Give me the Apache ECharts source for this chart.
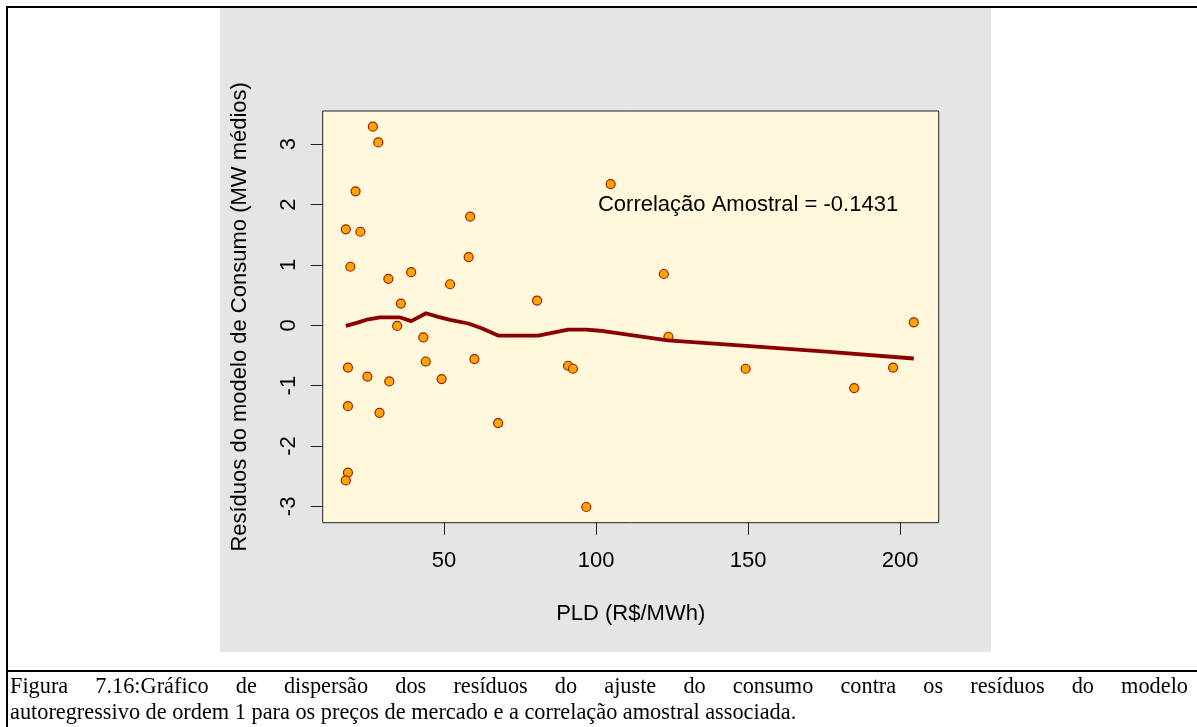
<!DOCTYPE html>
<html>
<head>
<meta charset="utf-8">
<script src="https://cdn.jsdelivr.net/npm/echarts@6/dist/echarts.min.js"></script>
<style>
  html, body { margin: 0; padding: 0; background: #fff; }
  #page { position: relative; width: 1197px; height: 727px; overflow: hidden; background: #fff; }
  #frame { position: absolute; left: 6px; top: 6px; width: 1400px; height: 900px; border: 2px solid #000; box-sizing: border-box; }
  #panel { position: absolute; left: 220px; top: 8px; width: 771px; height: 644px; background: #e5e5e5; }
  #rule { position: absolute; left: 6px; top: 670px; width: 1300px; height: 2px; background: #000; }
  .cap { position: absolute; left: 10px; width: 1178px; font: 22.3px "Liberation Serif", "Times New Roman", serif; line-height: 22px; color: #000; white-space: nowrap; }
  #cap1 { top: 675px; text-align: justify; text-align-last: justify; white-space: normal; }
  #cap2 { top: 701px; }
  #chart { position: absolute; left: 0; top: 0; width: 1197px; height: 727px; }
</style>
</head>
<body>
<div id="page">
  <div id="frame"></div>
  <div id="panel"></div>
  <div id="rule"></div>
  <div id="chart"></div>
  <div class="cap" id="cap1">Figura 7.16:Gráfico de dispersão dos resíduos do ajuste do consumo contra os resíduos do modelo</div>
  <div class="cap" id="cap2">autoregressivo de ordem 1 para os preços de mercado e a correlação amostral associada.</div>
</div>
<script>
// Residuals of the consumption fit (y) against PLD price (x)
const pldPrice = [26.6, 28.4, 20.9, 17.7, 22.5, 58.6, 58.1, 19.2, 31.7, 39.2, 52.0, 35.8, 80.6, 34.6, 43.2, 18.4, 24.8, 32.0,
                  44.0, 49.2, 60.0, 18.4, 28.8, 67.8, 18.4, 17.7, 96.8, 90.8, 92.4, 104.8, 122.3, 123.8, 204.5, 149.2, 184.9, 197.7];
const consumoResid = [3.29, 3.03, 2.22, 1.59, 1.55, 1.80, 1.13, 0.97, 0.77, 0.88, 0.68, 0.36, 0.41, -0.01, -0.20, -0.70, -0.85, -0.93,
                      -0.60, -0.89, -0.56, -1.34, -1.45, -1.62, -2.44, -2.57, -3.01, -0.67, -0.72, 2.34, 0.85, -0.19, 0.05, -0.72, -1.04, -0.70];

// Lowess smoother vertices
const lowessX = [17.7, 21.3, 25.1, 29.0, 35.6, 39.2, 44.1, 48.1, 52.0, 58.0, 62.4, 67.8, 81.0, 85.9, 90.8, 96.8, 101.2, 123.6, 149.4, 176.7, 204.5];
const lowessY = [-0.01, 0.04, 0.10, 0.13, 0.13, 0.07, 0.20, 0.14, 0.09, 0.03, -0.05, -0.17, -0.17, -0.12, -0.07, -0.07, -0.09, -0.25, -0.34, -0.44, -0.55];

// Tick labels
const xTicks = [50, 100, 150, 200];
const yTicks = [-3, -2, -1, 0, 1, 2, 3];

// Annotation
const corrText = 'Correlação Amostral = -0.1431';
const corrPos = [150, 2.0];

const xTitle = 'PLD (R$/MWh)';
const yTitle = 'Resíduos do modelo de Consumo (MW médios)';

const FONT = '"Liberation Sans", Arial, sans-serif';

const chart = echarts.init(document.getElementById('chart'), null, { renderer: 'canvas' });

const points = pldPrice.map((x, i) => [x, consumoResid[i]]);
const smooth = lowessX.map((x, i) => [x, lowessY[i]]);

chart.setOption({
  backgroundColor: 'transparent',
  animation: false,
  grid: {
    left: 322.7, top: 111, width: 616, height: 411.7,
    show: true, backgroundColor: '#fff8dc', borderColor: '#222', borderWidth: 1
  },
  xAxis: {
    type: 'value', min: 10.1, max: 212.7,
    axisLine: { show: false, onZero: false },
    splitLine: { show: false },
    axisTick: { show: true, inside: false, customValues: xTicks, length: 12, lineStyle: { color: '#222', width: 1 } },
    axisLabel: { customValues: xTicks, fontSize: 22, fontFamily: FONT, color: '#000', margin: 27 },
    name: xTitle, nameLocation: 'middle', nameGap: 80,
    nameTextStyle: { fontSize: 22, fontFamily: FONT, color: '#000' }
  },
  yAxis: {
    type: 'value', min: -3.27, max: 3.55,
    axisLine: { show: false, onZero: false },
    splitLine: { show: false },
    axisTick: { show: true, inside: false, customValues: yTicks, length: 12, lineStyle: { color: '#222', width: 1 } },
    axisLabel: { customValues: yTicks, fontSize: 22, fontFamily: FONT, color: '#000', margin: 23, rotate: 90 },
    name: yTitle, nameLocation: 'middle', nameGap: 72, nameRotate: 90,
    nameTextStyle: { fontSize: 22, fontFamily: FONT, color: '#000' }
  },
  series: [
    {
      type: 'scatter',
      data: points,
      symbol: 'circle',
      symbolSize: 9,
      itemStyle: { color: '#ffa500', borderColor: '#a02000', borderWidth: 1.2, opacity: 1 },
      z: 2
    },
    {
      type: 'line',
      data: smooth,
      showSymbol: false,
      symbol: 'none',
      smooth: false,
      lineStyle: { color: '#8b0000', width: 3.8 },
      z: 3
    },
    {
      type: 'custom',
      data: [corrPos],
      z: 4,
      renderItem: function (params, api) {
        const p = api.coord([api.value(0), api.value(1)]);
        return {
          type: 'text',
          x: p[0], y: p[1],
          style: { text: corrText, fill: '#000', font: '22px ' + FONT, align: 'center', verticalAlign: 'middle' }
        };
      }
    }
  ]
});
</script>
</body>
</html>
